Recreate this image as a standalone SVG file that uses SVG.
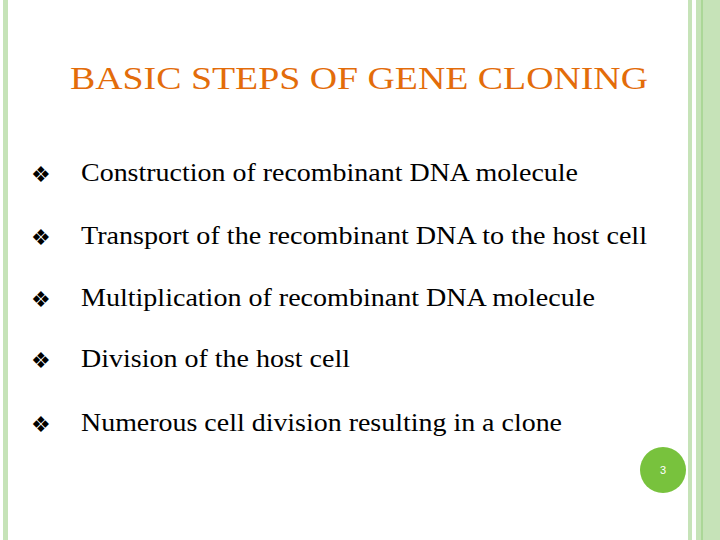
<svg xmlns="http://www.w3.org/2000/svg" width="720" height="540" viewBox="0 0 720 540">
<style>
.b{font-family:"DejaVu Sans",sans-serif;font-size:22px;fill:#000}
.t{font-family:"Liberation Serif","Times New Roman","DejaVu Serif",serif;font-size:25px;fill:#000}
.h{font-family:"Liberation Serif","Times New Roman","DejaVu Serif",serif;font-size:32px;fill:#e36c0a}
</style>
<rect width="720" height="540" fill="#fff"/>
<rect x="3" y="0" width="5" height="540" fill="#c6e3b8"/>
<rect x="688" y="0" width="4" height="540" fill="#c6e3b8"/>
<rect x="696" y="0" width="24" height="540" fill="#c6e3b8"/>
<rect x="701.5" y="0" width="1" height="540" fill="#8fcb77"/>
<text class="h" x="70" y="89" textLength="578" lengthAdjust="spacingAndGlyphs">BASIC STEPS OF GENE CLONING</text>
<g id="items">
<text class="b" x="31" y="182">❖</text><text class="t" x="81" y="181" textLength="497" lengthAdjust="spacingAndGlyphs">Construction of recombinant DNA molecule</text>
<text class="b" x="31" y="245">❖</text><text class="t" x="81" y="244" textLength="566" lengthAdjust="spacingAndGlyphs">Transport of the recombinant DNA to the host cell</text>
<text class="b" x="31" y="307">❖</text><text class="t" x="81" y="306" textLength="514" lengthAdjust="spacingAndGlyphs">Multiplication of recombinant DNA molecule</text>
<text class="b" x="31" y="368">❖</text><text class="t" x="81" y="367" textLength="269" lengthAdjust="spacingAndGlyphs">Division of the host cell</text>
<text class="b" x="31" y="432">❖</text><text class="t" x="81" y="431" textLength="481" lengthAdjust="spacingAndGlyphs">Numerous cell division resulting in a clone</text>
</g>
<g id="page"><circle cx="663" cy="470" r="23" fill="#78c23d"/>
<text x="663" y="474" text-anchor="middle" font-family="Liberation Sans,sans-serif" font-size="11" fill="#fff">3</text></g>
</svg>
